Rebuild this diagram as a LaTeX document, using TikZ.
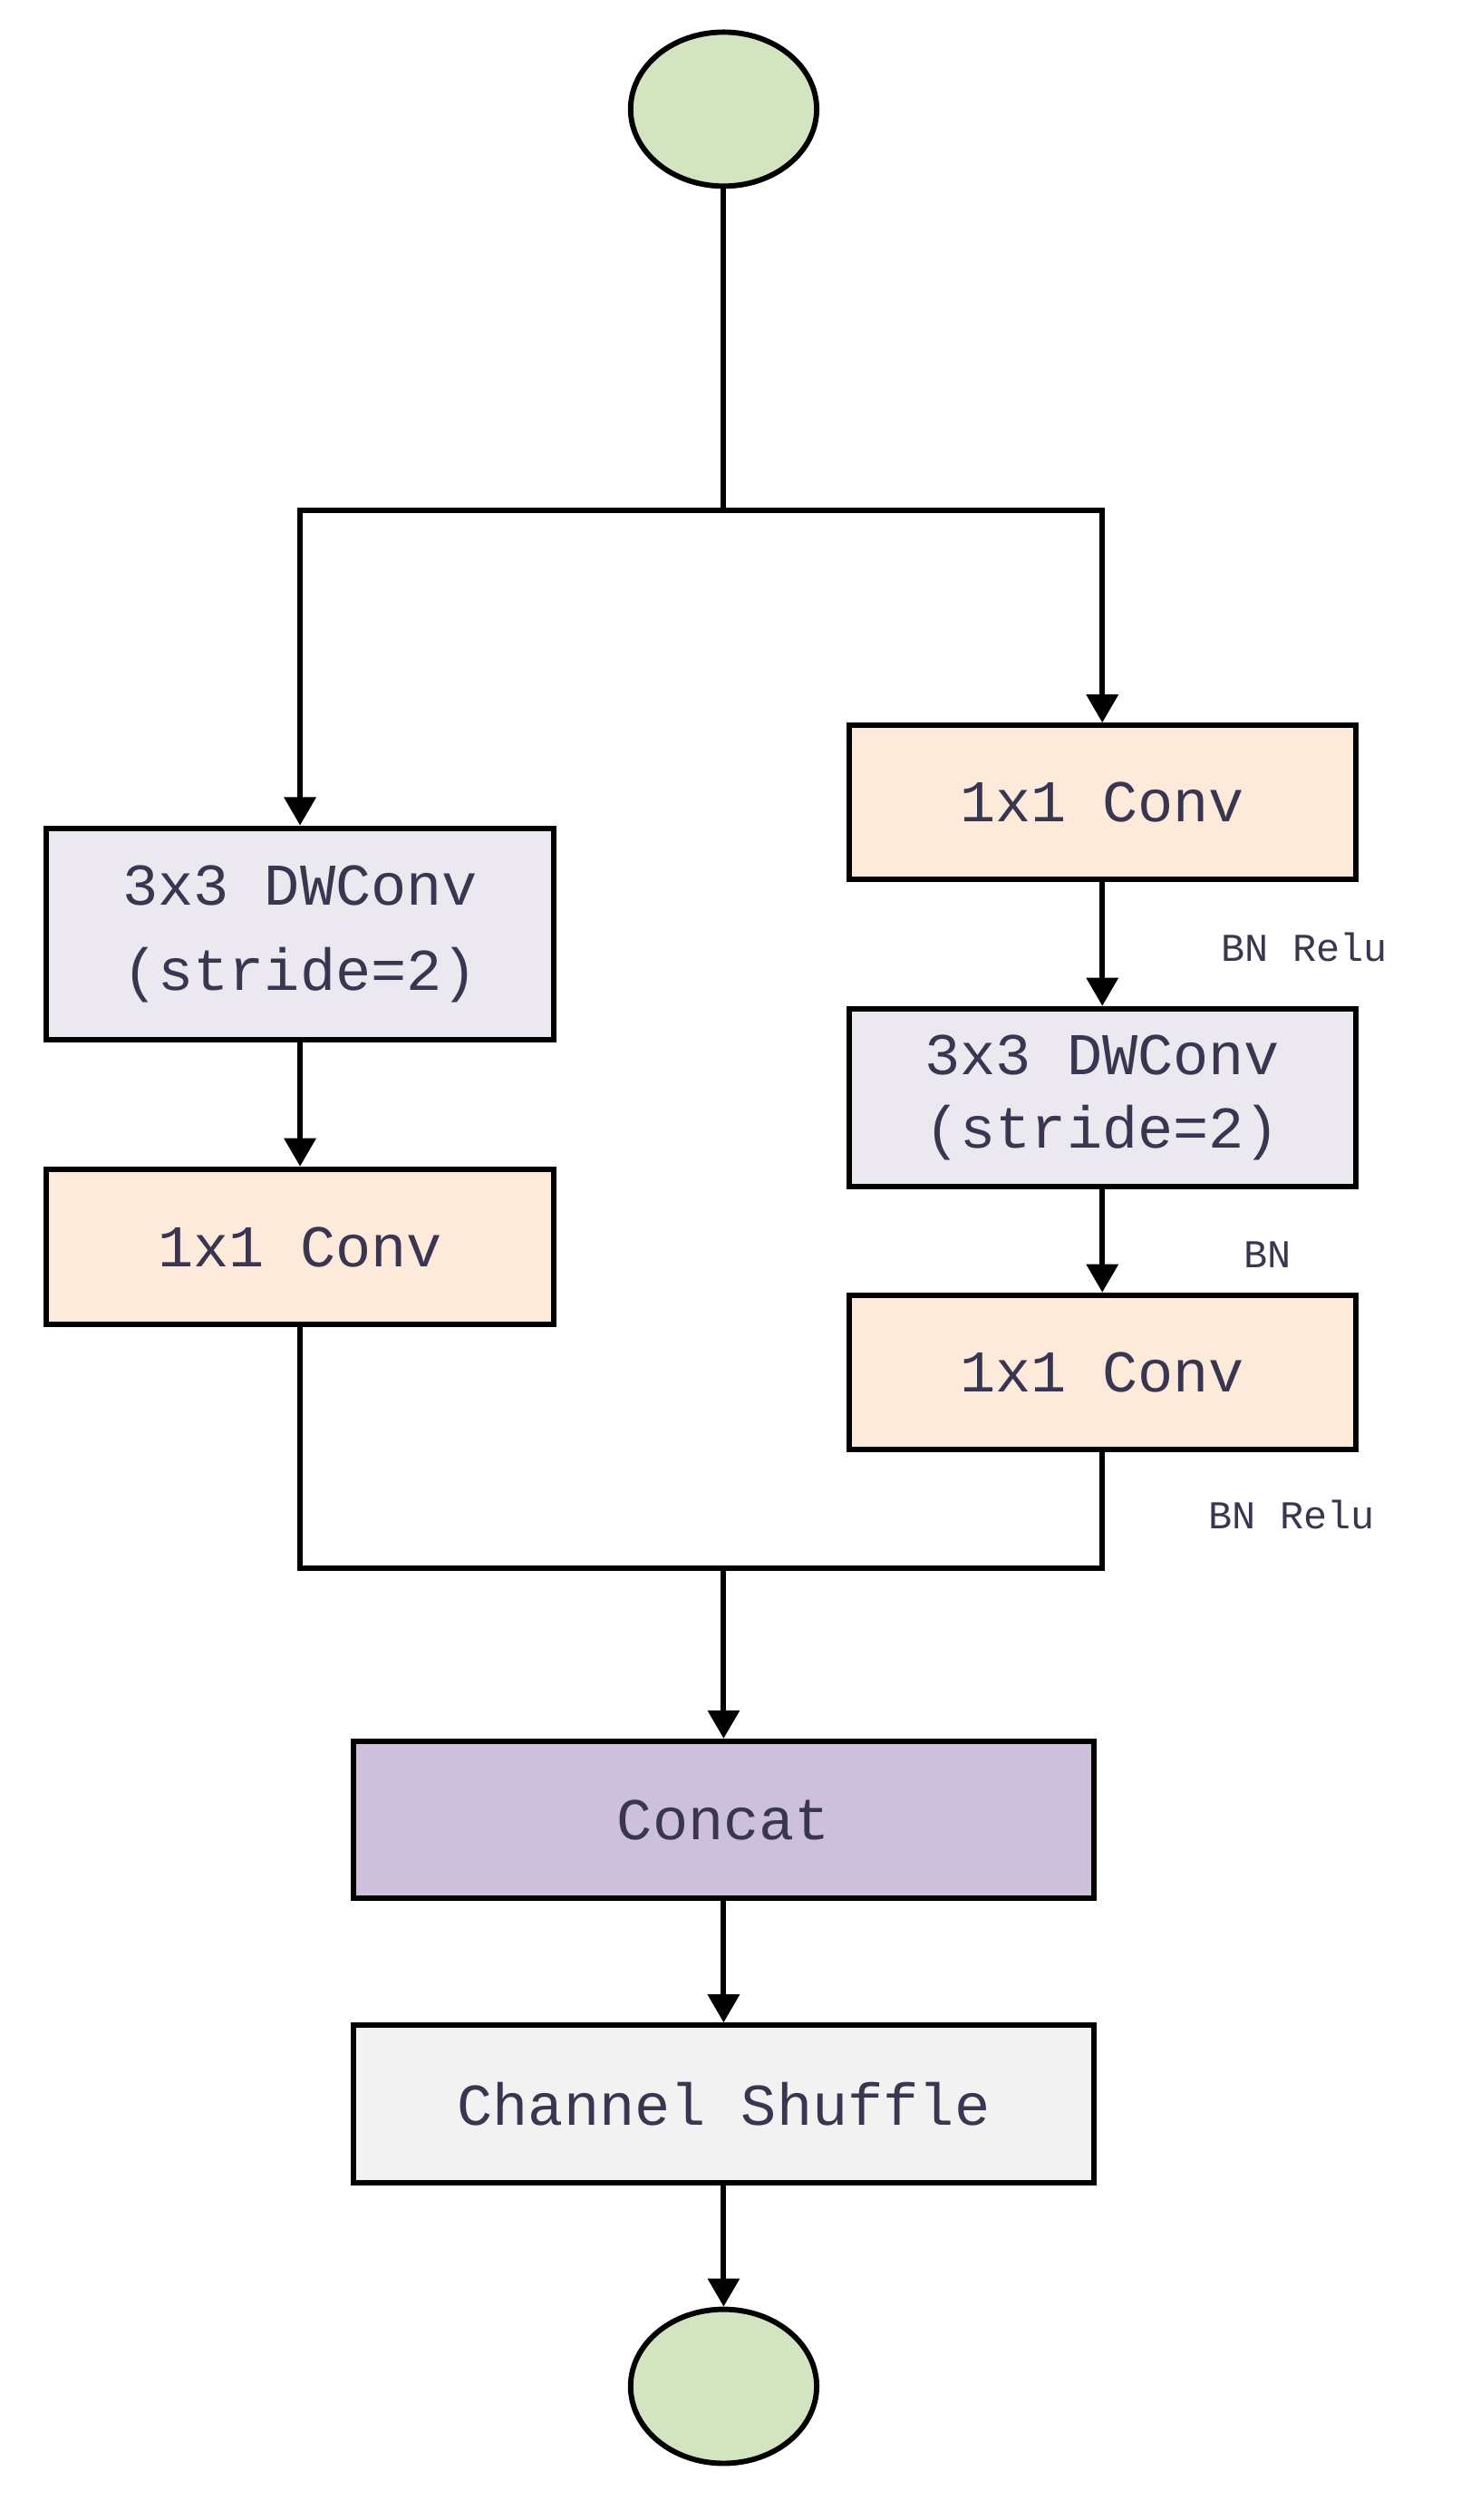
\documentclass[tikz,border=0pt]{standalone}
\usepackage{fontspec}
\setmainfont{Liberation Mono}
\usetikzlibrary{arrows.meta,shapes.geometric}
\definecolor{txt}{HTML}{3A3550}
\definecolor{peach}{HTML}{FDEADA}
\definecolor{lav}{HTML}{ECE8F0}
\definecolor{conc}{HTML}{CCC0DA}
\definecolor{shuf}{HTML}{F2F2F2}
\definecolor{circ}{HTML}{D3E4C0}
\begin{document}
\begin{tikzpicture}[x=0.02cm,y=-0.02cm,
  wbox/.style={draw=black,line width=1.9pt,text=txt,font=\fontsize{21}{30}\selectfont,inner sep=0pt,minimum width=9.24cm,minimum height=1.96cm},
  lbl/.style={text=txt,font=\fontsize{14}{16}\selectfont},
  c/.style={draw=black,line width=1.9pt,fill=circ,ellipse,minimum width=2.32cm,minimum height=1.92cm,inner sep=0pt},
  ln/.style={line width=1.9pt},
  ar/.style={line width=1.9pt,-{Triangle[length=10pt,width=11pt]}}]
\useasboundingbox (0,0) rectangle (910,1570.3);
\node[c] (top) at (451,68) {};
\node[c] (bot) at (451,1487) {};
\node[wbox,fill=lav,minimum width=6.32cm,minimum height=2.64cm,align=center] (L1) at (187,582) {3x3 DWConv\\(stride=2)};
\node[wbox,fill=peach,minimum width=6.32cm,minimum height=1.94cm] (L2) at (187,777) {1x1 Conv};
\node[wbox,fill=peach,minimum width=6.32cm,minimum height=1.92cm] (R1) at (687,500) {1x1 Conv};
\node[wbox,fill=lav,minimum width=6.32cm,minimum height=2.22cm,align=center,font=\fontsize{21}{26}\selectfont] (R2) at (687,684) {3x3 DWConv\\(stride=2)};
\node[wbox,fill=peach,minimum width=6.32cm,minimum height=1.92cm] (R3) at (687,855) {1x1 Conv};
\node[wbox,fill=conc] (C) at (451,1134) {Concat};
\node[wbox,fill=shuf] (S) at (451,1311) {Channel Shuffle};
\node[lbl] (b1) at (813,590) {BN Relu};
\node[lbl] (b2) at (790,782) {BN};
\node[lbl] (b3) at (805,944) {BN Relu};
\coordinate (sp) at (451,318);
\coordinate (mg) at (451,977);
\draw[ln] (top) -- (sp);
\draw[ar] (sp) -| (L1.north);
\draw[ar] (sp) -| (R1.north);
\draw[ar] (L1) -- (L2);
\draw[ar] (R1) -- (R2);
\draw[ar] (R2) -- (R3);
\draw[ln] (L2.south) |- (mg);
\draw[ln] (R3.south) |- (mg);
\draw[ar] (mg) -- (C.north);
\draw[ar] (C) -- (S);
\draw[ar] (S) -- (bot);
\end{tikzpicture}
\end{document}
